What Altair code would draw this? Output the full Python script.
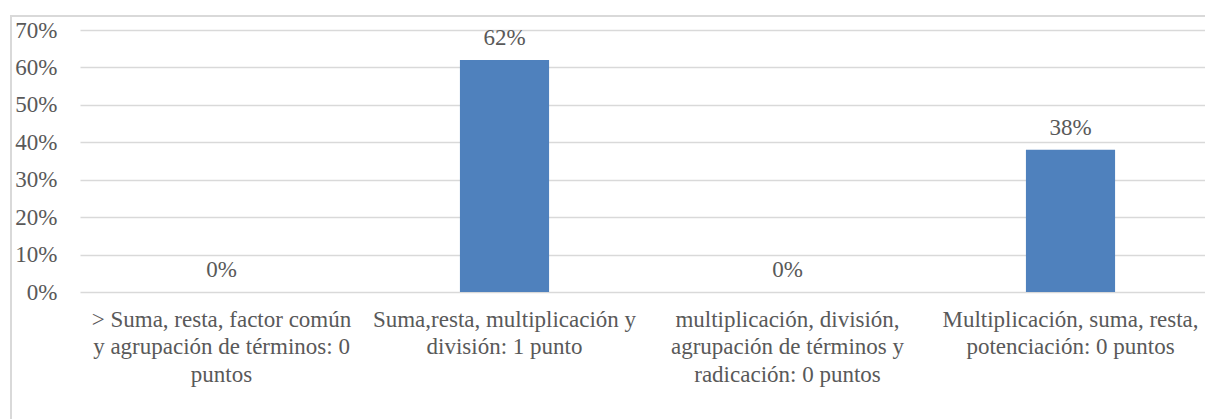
import altair as alt
import pandas as pd

# Categories (line breaks marked with "|") and the share of answers for each
categories = [
    "> Suma, resta, factor común|y agrupación de términos: 0|puntos",
    "Suma,resta, multiplicación y|división: 1 punto",
    "multiplicación, división,|agrupación de términos y|radicación: 0 puntos",
    "Multiplicación, suma, resta,|potenciación: 0 puntos",
]
shares = [0.0, 0.62, 0.0, 0.38]
y_ticks = [0.0, 0.1, 0.2, 0.3, 0.4, 0.5, 0.6, 0.7]

df = pd.DataFrame({"categoria": categories, "porcentaje": shares})

FONT = "Liberation Serif"
FONT_SIZE = 23
TEXT = "#595959"
GRID = "#d9d9d9"
BAR = "#4f81bd"

base = alt.Chart(df).encode(
    x=alt.X(
        "categoria:N",
        sort=categories,
        title=None,
        scale=alt.Scale(range=[0, 1132], paddingInner=0, paddingOuter=0),
        axis=alt.Axis(
            labelAngle=0,
            labelExpr="split(datum.label, '|')",
            labelLineHeight=27.5,
            labelPadding=16,
            labelLimit=400,
            labelOverlap=False,
            ticks=False,
            domain=False,
            grid=False,
        ),
    ),
    y=alt.Y(
        "porcentaje:Q",
        title=None,
        scale=alt.Scale(domain=[0, 0.7], nice=False, zero=True),
        axis=alt.Axis(
            values=y_ticks,
            format=".0%",
            labelPadding=23,
            labelOverlap=False,
            labelFlush=False,
            ticks=False,
            domain=False,
            grid=True,
        ),
    ),
)

bars = base.mark_bar(color=BAR, width=alt.RelativeBandSize(0.315))

labels = base.mark_text(baseline="alphabetic", dy=-15).encode(
    text=alt.Text("porcentaje:Q", format=".0%")
)

# Light outer frame around the chart area
frame = alt.Chart(pd.DataFrame({"f": [0]})).mark_rect(
    fill=None, stroke=GRID, strokeWidth=2, clip=False
).encode(
    x=alt.value(-69),
    x2=alt.value(1400),
    y=alt.value(-14),
    y2=alt.value(600),
)

chart = (
    alt.layer(bars, labels, frame)
    .properties(
        width=1125,
        height=262,
        autosize=alt.AutoSizeParams(type="none"),
        padding={"left": 80, "top": 30, "right": 0, "bottom": 127},
    )
    .configure(background="white", font=FONT)
    .configure_view(stroke=None)
    .configure_axis(
        labelFont=FONT,
        labelFontSize=FONT_SIZE,
        labelColor=TEXT,
        gridColor=GRID,
        gridWidth=1.5,
    )
    .configure_text(font=FONT, fontSize=FONT_SIZE, color=TEXT)
)

chart.save("out.html", embed_options={"renderer": "svg", "actions": False})
